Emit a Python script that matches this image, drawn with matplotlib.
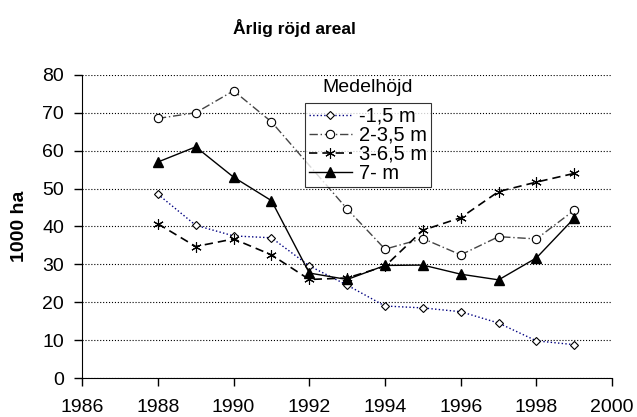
import numpy as np
import matplotlib.pyplot as plt

plt.rcParams['font.family'] = ['Liberation Sans', 'DejaVu Sans']

years = [1988, 1989, 1990, 1991, 1992, 1993, 1994, 1995, 1996, 1997, 1998, 1999]
# -1,5 m
h1 = [48.5, 40.3, 37.5, 37.0, 29.6, 24.5, 19.0, 18.5, 17.5, 14.5, 9.8, 8.8]
# 2-3,5 m (ingen punkt 1992)
years2 = [1988, 1989, 1990, 1991, 1993, 1994, 1995, 1996, 1997, 1998, 1999]
h2 = [68.5, 70.0, 75.8, 67.6, 44.6, 34.0, 36.8, 32.5, 37.3, 36.7, 44.3]
# 3-6,5 m
h3 = [40.7, 34.7, 36.7, 32.5, 26.0, 26.4, 29.5, 39.0, 42.3, 49.2, 51.7, 54.0]
# 7- m
h4 = [57.0, 61.0, 53.0, 46.8, 27.7, 26.0, 29.7, 29.8, 27.4, 25.9, 31.7, 42.2]

labels = ['-1,5 m', '2-3,5 m', '3-6,5 m', '7- m']

fig = plt.figure(figsize=(6.37, 4.17), dpi=100)
ax = fig.add_axes([0.129, 0.0935, 0.832, 0.727])

ax.plot(years, h1, color='#000080', linestyle=':', linewidth=1,
        marker='D', markersize=4.5, markerfacecolor='white', markeredgecolor='black',
        markeredgewidth=0.8, label=labels[0])
ax.plot(years2, h2, color='#444444', linestyle=(0, (6, 2, 1, 2)), linewidth=1,
        marker='o', markersize=6, markerfacecolor='white', markeredgecolor='black',
        markeredgewidth=0.8, label=labels[1])
ax.plot(years, h3, color='black', linestyle=(0, (5, 3)), linewidth=1.2,
        marker=(6, 2, 0), markersize=7.5, markeredgecolor='black',
        markeredgewidth=0.8, label=labels[2])
ax.plot(years, h4, color='black', linestyle='-', linewidth=1,
        marker='^', markersize=7, markerfacecolor='black', markeredgecolor='black',
        label=labels[3])

ax.set_xlim(1986, 2000)
ax.set_ylim(0, 80)
ax.set_xticks(np.arange(1986, 2001, 2))
ax.set_yticks(np.arange(0, 81, 10))
ax.tick_params(axis='both', labelsize=14, direction='out', length=6, width=1)
ax.tick_params(axis='x', pad=9)
ax.tick_params(axis='y', pad=7)
ax.yaxis.grid(True, color='black', linestyle=':', linewidth=0.8)
ax.set_axisbelow(True)
for s in ['top', 'right']:
    ax.spines[s].set_visible(False)
ax.set_ylabel('1000 ha', fontsize=14, fontweight='bold', labelpad=10)

fig.text(0.462, 0.933, 'Årlig röjd areal', ha='center', va='center',
         fontsize=12.5, fontweight='bold')
fig.text(0.577, 0.79, 'Medelhöjd', ha='center', va='center', fontsize=14)

leg = ax.legend(loc='upper left', bbox_to_anchor=(0.421, 0.908), borderaxespad=0,
                fontsize=14.5, frameon=True, fancybox=False, edgecolor='black',
                handlelength=2.1, handletextpad=0.35, borderpad=0.2,
                labelspacing=0.0)
leg.get_frame().set_linewidth(0.8)

fig.savefig('out.png', dpi=100)
